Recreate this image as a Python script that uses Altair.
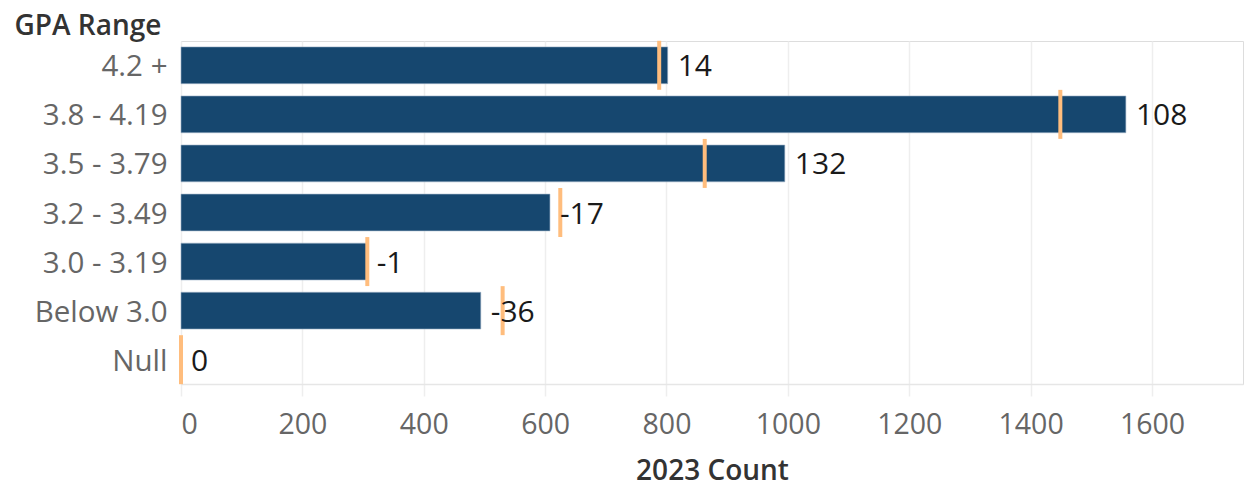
import altair as alt
import pandas as pd

categories = ["4.2 +", "3.8 - 4.19", "3.5 - 3.79", "3.2 - 3.49", "3.0 - 3.19", "Below 3.0", "Null"]
count_2023 = [802, 1557, 995, 608, 306, 494, 0]
change = [14, 108, 132, -17, -1, -36, 0]

df = pd.DataFrame({"GPA Range": categories, "count": count_2023, "change": change})

FONT = "Open Sans"
BAR = "#16476f"
TICK = "#ffbd7d"

base = alt.Chart(df).transform_calculate(
    prior="datum.count - datum.change",
    label="'' + datum.change",
)

y = alt.Y("GPA Range:N", sort=categories,
          scale=alt.Scale(paddingInner=0.25, paddingOuter=0.12),
          axis=alt.Axis(title="GPA Range", titleAngle=0, titleAlign="left",
                        titleBaseline="middle", titleX=-167, titleY=-15,
                        titleFont=FONT, titleFontSize=28, titleFontWeight=600,
                        titleColor="#333333", labelFont=FONT, labelFontSize=29.5,
                        labelColor="#666666", labelPadding=14, labelOffset=2,
                        ticks=False, domain=False, grid=False))

x = alt.X("count:Q", scale=alt.Scale(domain=[0, 1750], nice=False),
          axis=alt.Axis(title="2023 Count", values=list(range(0, 1601, 200)),
                        labelExpr="'' + datum.value", labelFlush=True,
                        titleFont=FONT, titleFontSize=28, titleFontWeight=600,
                        titleColor="#333333", titlePadding=19,
                        labelFont=FONT, labelFontSize=28.5, labelColor="#666666",
                        labelPadding=14, tickSize=12, tickColor="#eeeeee",
                        tickWidth=1.5, domainColor="#e6e6e6", domainWidth=1.5,
                        gridColor="#eeeeee", gridWidth=1.5))

bars = base.mark_bar(color=BAR, stroke="#9fb3c8", strokeWidth=0.6).encode(x=x, y=y)

ticks = base.mark_tick(color=TICK, thickness=4, size=49, opacity=1).encode(
    x=alt.X("prior:Q"), y=alt.Y("GPA Range:N", sort=categories))

labels = base.mark_text(align="left", baseline="middle", dx=10, dy=2, font=FONT,
                        fontSize=30, color="#1a1a1a").encode(
    x=alt.X("count:Q"), y=alt.Y("GPA Range:N", sort=categories),
    text=alt.Text("label:N"))

chart = (bars + ticks + labels).properties(
    width=1062, height=343,
    autosize=alt.AutoSizeParams(type="none"),
    padding={"left": 173, "top": 33, "right": 5, "bottom": 104}
).configure_view(stroke=None).configure(background="white")

chart.save("out.html", embed_options={"renderer": "svg", "actions": False})
